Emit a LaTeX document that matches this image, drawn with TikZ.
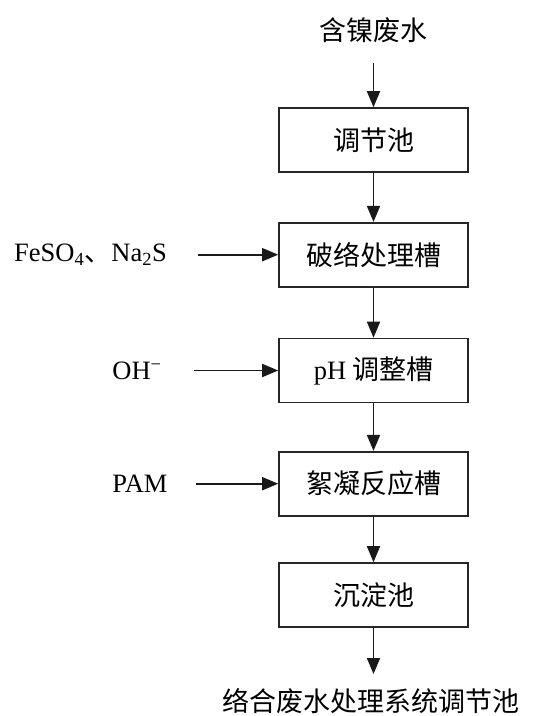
\documentclass[tikz,border=0pt]{standalone}
\usepackage{fontspec}
\setmainfont{Liberation Serif}
\newfontfamily\cjk{Noto Sans CJK SC}
\usetikzlibrary{arrows.meta}
\newcommand{\cjksz}{\cjk\fontsize{27}{31}\selectfont}
\tikzset{
  stepbox/.style={draw=black!85, line width=1.6pt, minimum width=189pt, minimum height=64pt, inner sep=0pt, font=\cjksz},
  cjktext/.style={font=\cjksz, inner sep=0pt},
  lattext/.style={font=\fontsize{26.5}{30}\selectfont, inner sep=0pt},
  arr/.style={line width=1.8pt, draw=black!90, -{Triangle[length=16pt,width=13pt]}}
}
\begin{document}
\begin{tikzpicture}[x=1pt,y=-1pt]
\useasboundingbox[fill=white] (0,0) rectangle (534,716);
\node[cjktext] (src) at (373,30) {含镍废水};
\node[stepbox] (b1) at (373.5,140) {调节池};
\node[stepbox] (b2) at (373.5,254.7) {破络处理槽};
\node[stepbox] (b3) at (373.5,370.5) {{\fontsize{26.5}{30}\selectfont\rmfamily pH} 调整槽};
\node[stepbox] (b4) at (373.5,483.7) {絮凝反应槽};
\node[stepbox] (b5) at (373.5,595) {沉淀池};
\node[cjktext] (out) at (371,701) {络合废水处理系统调节池};
\node[lattext] (l1) at (90.5,254.7) {FeSO\textsubscript{4}{\cjksz 、}Na\textsubscript{2}S};
\node[lattext] (l2) at (137,370.5) {OH\textsuperscript{−}};
\node[lattext] (l3) at (140,483.7) {PAM};
\coordinate (s0) at (373.5,63);
\coordinate (e0) at (373.5,674);
\coordinate (a1) at (198,254.7);
\coordinate (a2) at (194,370.5);
\coordinate (a3) at (196,483.7);
\draw[arr] (s0) -- (b1);
\draw[arr] (b1) -- (b2);
\draw[arr] (b2) -- (b3);
\draw[arr] (b3) -- (b4);
\draw[arr] (b4) -- (b5);
\draw[arr] (b5) -- (e0);
\draw[arr] (a1) -- (b2);
\draw[arr] (a2) -- (b3);
\draw[arr] (a3) -- (b4);
\end{tikzpicture}
\end{document}
